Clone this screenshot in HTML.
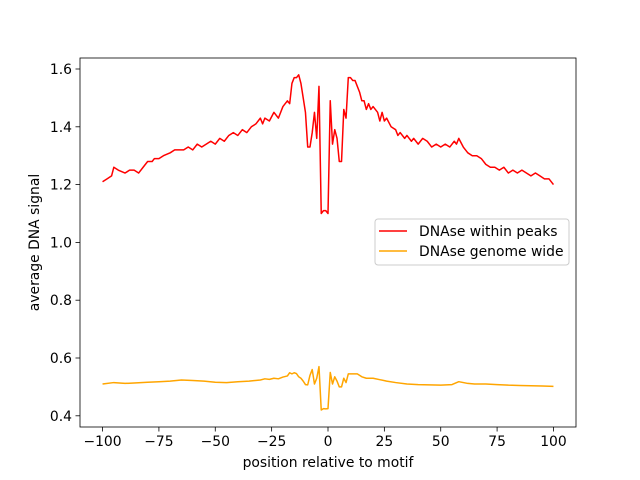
<!DOCTYPE html>
<html><head><meta charset="utf-8"><style>
body{margin:0;background:#fff;}
svg{display:block;font-family:"DejaVu Sans","Liberation Sans",sans-serif;}
</style></head><body>
<svg id="chart" width="640" height="480" xmlns="http://www.w3.org/2000/svg">
<rect width="640" height="480" fill="#fff"/>
<g id="plot"></g>
<rect x="80" y="58" width="496" height="369" fill="none" stroke="#000" stroke-width="0.8"/>
<g id="xt"></g>
<g id="yt"></g>
<text x="328" y="467" font-size="13.9" text-anchor="middle">position relative to motif</text>
<text transform="translate(39,242.5) rotate(-90)" font-size="13.9" text-anchor="middle">average DNA signal</text>
<g>
<rect x="375" y="219" width="194" height="46" rx="3" fill="#fff" fill-opacity="0.8" stroke="#ccc"/>
<line x1="379" y1="231" x2="407" y2="231" stroke="#ff0000" stroke-width="1.5"/>
<text x="419" y="236" font-size="13.9">DNAse within peaks</text>
<line x1="379" y1="251" x2="407" y2="251" stroke="#ffa500" stroke-width="1.5"/>
<text x="419" y="256" font-size="13.9">DNAse genome wide</text>
</g>
</svg>
<script>
const redX=[-100,-98,-96,-95,-93,-90,-88,-86,-84,-82,-80,-78,-77,-75,-73,-70,-68,-66,-64,-62,-60,-58,-56,-54,-52,-50,-48,-46,-44,-42,-40,-38,-36,-34,-32,-30,-29,-28,-26,-24,-22,-20,-18,-17,-16,-15,-14,-13,-12,-11,-10,-9,-8,-7,-6,-5,-4,-3,-2,-1,0,1,2,3,4,5,6,7,8,9,10,11,12,14,15,16,17,18,19,20,22,23,24,25,26,28,30,31,32,34,35,37,38,40,42,44,46,48,50,52,54,56,57,58,60,62,64,66,68,70,72,74,76,78,80,82,84,86,88,90,92,94,96,98,100];
const redY=[1.21,1.22,1.23,1.26,1.25,1.24,1.25,1.25,1.24,1.26,1.28,1.28,1.29,1.29,1.30,1.31,1.32,1.32,1.32,1.33,1.32,1.34,1.33,1.34,1.35,1.34,1.36,1.35,1.37,1.38,1.37,1.39,1.38,1.40,1.41,1.43,1.41,1.43,1.42,1.45,1.43,1.47,1.49,1.48,1.55,1.57,1.57,1.58,1.55,1.50,1.45,1.33,1.33,1.38,1.45,1.36,1.54,1.10,1.11,1.11,1.10,1.49,1.34,1.39,1.36,1.28,1.28,1.46,1.43,1.57,1.57,1.56,1.56,1.52,1.49,1.49,1.46,1.48,1.46,1.47,1.45,1.42,1.45,1.42,1.43,1.40,1.39,1.37,1.38,1.36,1.37,1.35,1.36,1.34,1.36,1.35,1.33,1.34,1.33,1.34,1.33,1.35,1.34,1.36,1.33,1.31,1.30,1.30,1.29,1.27,1.26,1.26,1.25,1.26,1.24,1.25,1.24,1.25,1.24,1.23,1.24,1.23,1.22,1.22,1.20];
const orX=[-100,-95,-90,-85,-80,-75,-70,-65,-60,-55,-50,-45,-40,-35,-30,-28,-26,-24,-22,-20,-18,-17,-16,-15,-14,-13,-12,-11,-10,-9,-8,-7,-6,-5,-4,-3,-2,-1,0,1,2,3,4,5,6,7,8,9,11,13,15,17,20,23,26,30,35,40,45,50,55,58,62,65,70,75,80,85,90,95,100];
const orY=[0.51,0.515,0.512,0.514,0.516,0.518,0.52,0.524,0.522,0.52,0.516,0.515,0.518,0.52,0.524,0.528,0.526,0.53,0.528,0.534,0.538,0.549,0.545,0.549,0.546,0.535,0.53,0.52,0.508,0.507,0.54,0.56,0.51,0.53,0.57,0.42,0.425,0.424,0.425,0.55,0.51,0.535,0.52,0.5,0.5,0.53,0.515,0.545,0.545,0.545,0.535,0.53,0.53,0.525,0.52,0.515,0.51,0.508,0.507,0.506,0.508,0.518,0.512,0.51,0.51,0.508,0.506,0.505,0.504,0.503,0.502];
const xTicks=[-100,-75,-50,-25,0,25,50,75,100];
const yTicks=[0.4,0.6,0.8,1.0,1.2,1.4,1.6];
const NS='http://www.w3.org/2000/svg';
const X=v=>80+(v+110)*496/220;
const Y=v=>69+(1.6-v)*289;
function mk(tag,attrs,parent){const e=document.createElementNS(NS,tag);for(const k in attrs)e.setAttribute(k,attrs[k]);parent.appendChild(e);return e;}
const plot=document.getElementById('plot');
const pr=mk('polyline',{points:redX.map((x,i)=>X(x)+','+Y(redY[i])).join(' '),fill:'none',stroke:'#ff0000','stroke-width':1.5,'stroke-linejoin':'round'},plot);


const po=mk('polyline',{points:orX.map((x,i)=>X(x)+','+Y(orY[i])).join(' '),fill:'none',stroke:'#ffa500','stroke-width':1.5,'stroke-linejoin':'round'},plot);


const xt=document.getElementById('xt');
xTicks.forEach(t=>{
 const l=mk('line',{x1:X(t),x2:X(t),y1:427,y2:431.5,stroke:'#000','stroke-width':0.8},xt);
 
 
 const s=mk('text',{x:X(t),y:446,'font-size':13.9,'text-anchor':'middle'},xt);
 s.textContent=(t<0?'\u2212'+(-t):String(t));
 
 
});
const yt=document.getElementById('yt');
yTicks.forEach(t=>{
 const l=mk('line',{x1:75.5,x2:80,y1:Y(t),y2:Y(t),stroke:'#000','stroke-width':0.8},yt);
 
 
 const s=mk('text',{x:72,y:Y(t)+5,'font-size':13.9,'text-anchor':'end'},yt);
 s.textContent=t.toFixed(1);
 
 
});
</script>
</body></html>
